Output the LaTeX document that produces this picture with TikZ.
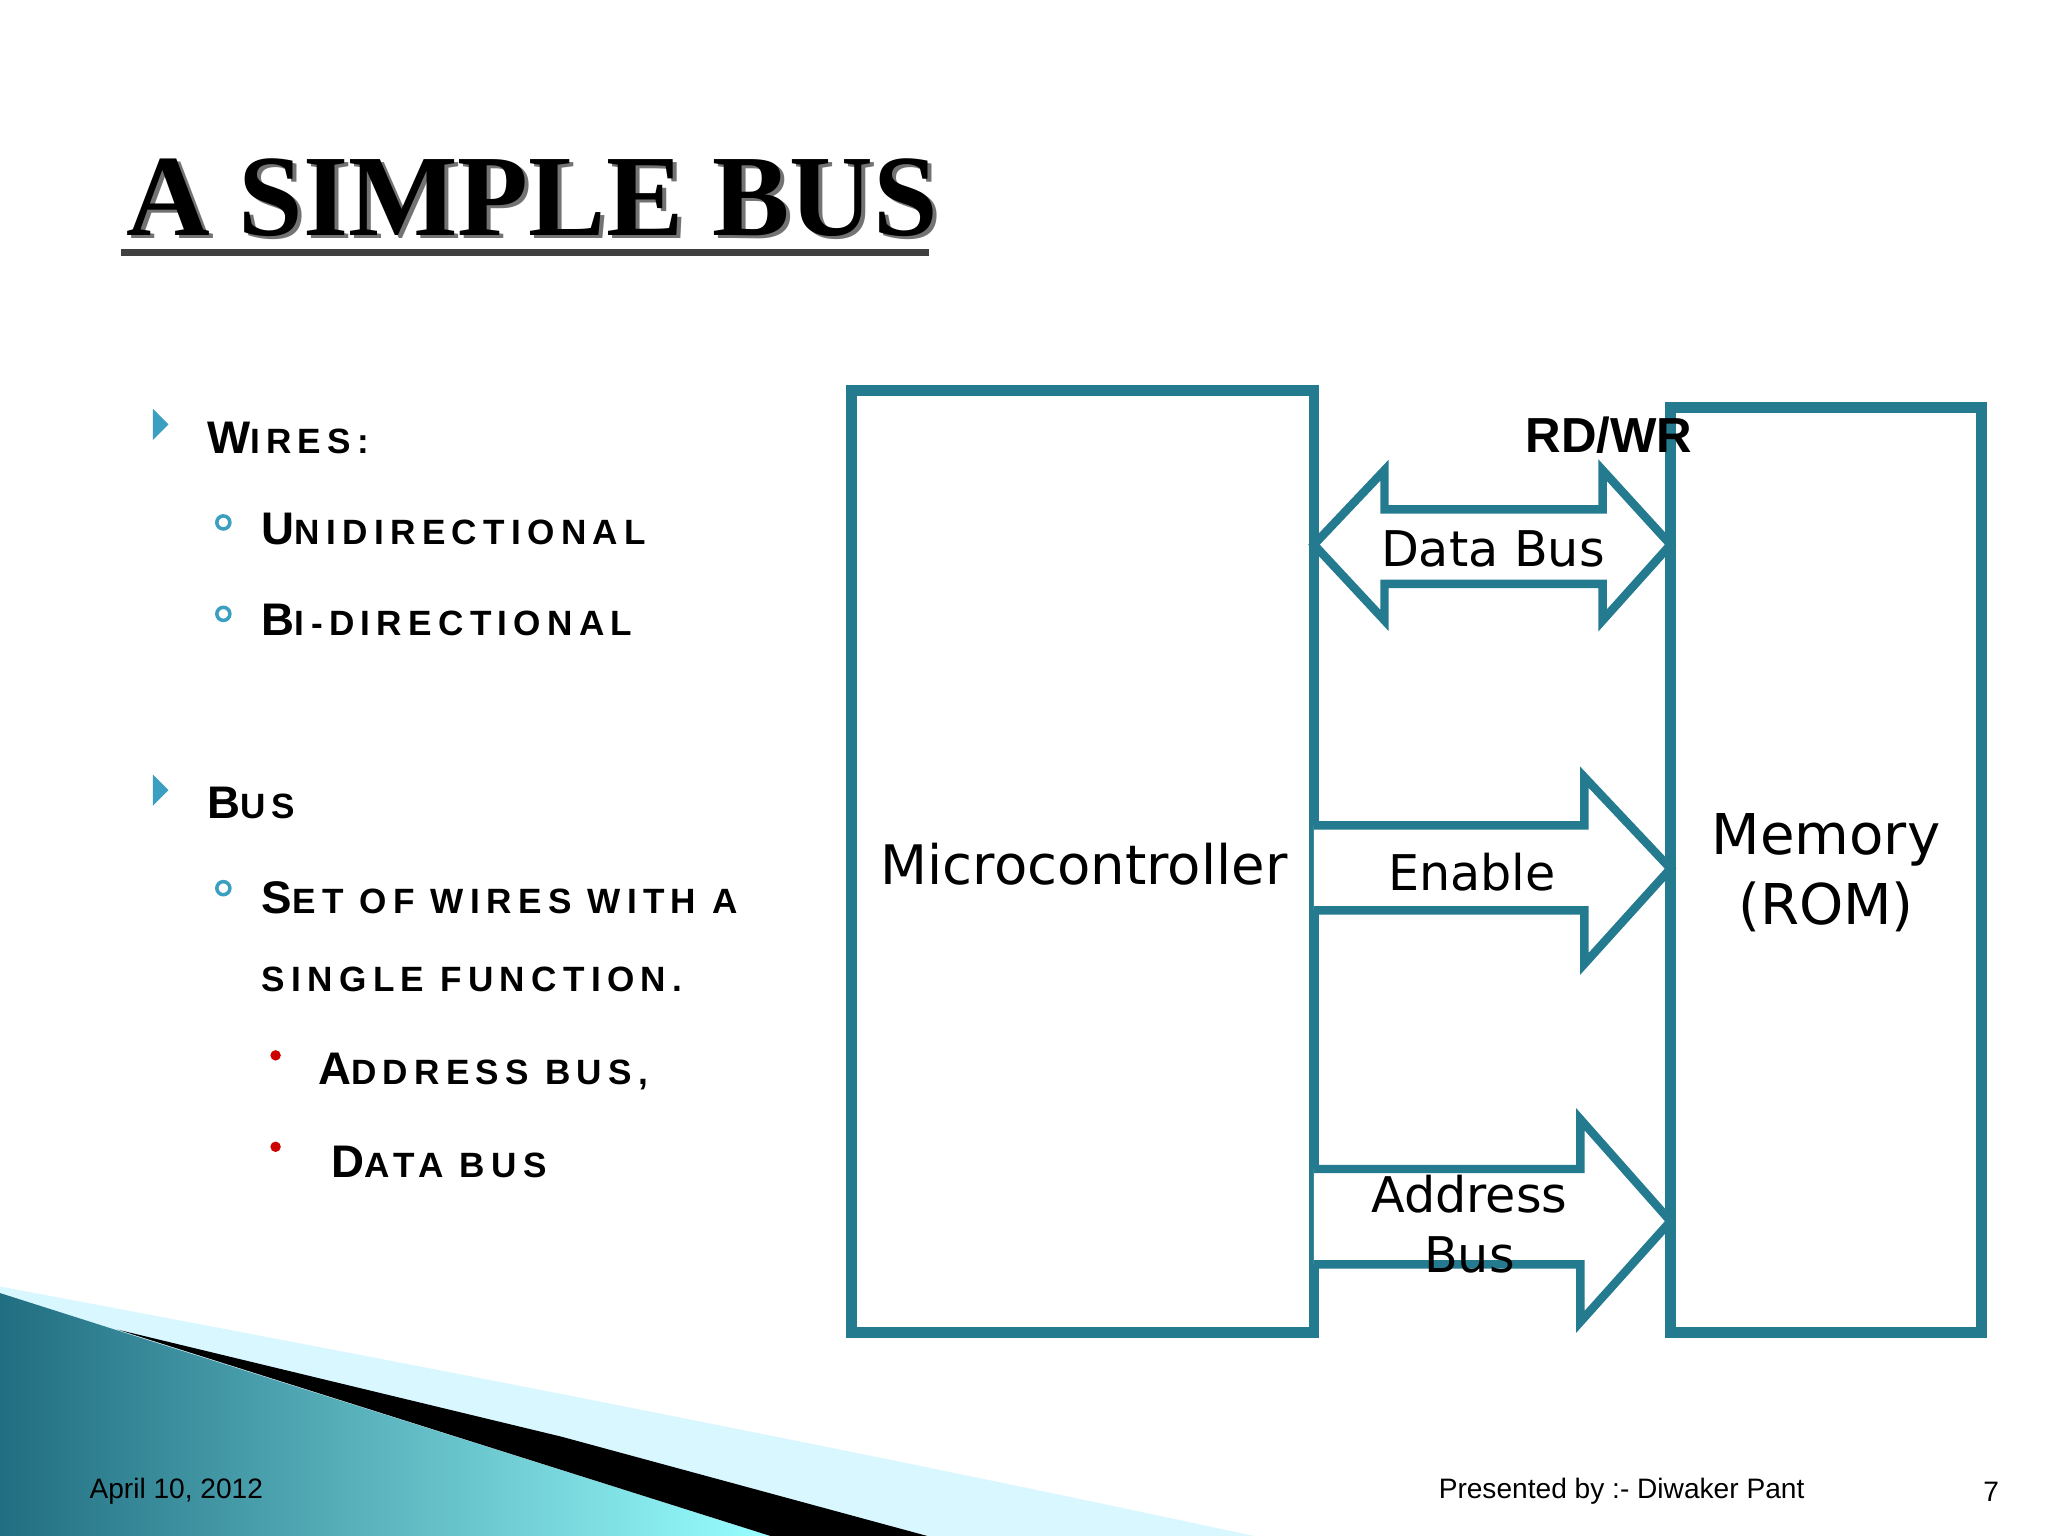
\documentclass[tikz,border=0pt]{standalone}
\usepackage{fontspec}
\setmainfont{DejaVu Sans}
\newfontfamily\lib{Liberation Sans}
\newfontfamily\ttl{Liberation Serif}
\definecolor{teal}{HTML}{247A8F}
\definecolor{bul}{HTML}{3A9FC0}
\newcommand{\fsc}[2]{{\lib\bfseries\fontsize{13}{14}\selectfont #1{\fontsize{10}{12}\selectfont\addfontfeature{LetterSpace=18}#2}}}
\begin{document}
\begin{tikzpicture}[x=0.01306cm,y=-0.01306cm,
  box/.style={draw=teal,line width=3pt},
  arr/.style={draw=teal,line width=2.4pt,fill=white,line join=miter},
  lbl/.style={font=\fontsize{15.5}{18}\selectfont,align=center},
  itm/.style={anchor=west,inner sep=0}]
\useasboundingbox (0,0) rectangle (1568,1176);
\fill[white] (0,0) rectangle (1568,1176);
% bottom decoration
\fill[blue!20!cyan!15] (0,985) .. controls (400,1060) and (700,1120) .. (960,1176) -- (0,1176) -- cycle;
\shade[left color=teal!90!black,right color=cyan!40!white] (0,990) -- (110,1025) -- (590,1176) -- (0,1176) -- cycle;
\fill[black] (90,1018) -- (430,1100) -- (710,1176) -- (590,1176) -- cycle;
% title
\node[itm,font=\ttl\bfseries\fontsize{33}{33}\selectfont,text=black!55] at (99,154) {A SIMPLE BUS};
\node[itm,font=\ttl\bfseries\fontsize{33}{33}\selectfont] (title) at (96,151) {A SIMPLE BUS};
\draw[line width=2pt,black!75] (93,193) -- (711,193);
% bullets
\foreach \y in {325,605} \fill[bul] (117,\y-12) -- (129,\y) -- (117,\y+12) -- cycle;
\foreach \y in {400,470,680} \draw[bul,line width=1pt] (171,\y) circle (5);
\foreach \y in {808,878} \fill[red!80!black] (211,\y) circle (4);
\node[itm] (w) at (158,335) {\fsc{W}{IRES:}};
\node[itm] (u) at (200,405) {\fsc{U}{NIDIRECTIONAL}};
\node[itm] (b) at (200,475) {\fsc{B}{I-DIRECTIONAL}};
\node[itm] (bus) at (158,615) {\fsc{B}{US}};
\node[itm] (s) at (200,687) {\fsc{S}{ET OF WIRES WITH A}};
\node[itm] (s2) at (200,750) {{\lib\bfseries\fontsize{10}{12}\selectfont\addfontfeature{LetterSpace=18}SINGLE FUNCTION.}};
\node[itm] (a) at (243,820) {\fsc{A}{DDRESS BUS,}};
\node[itm] (d) at (253,890) {\fsc{D}{ ATA BUS}};
% boxes
\draw[box] (652,299) rectangle (1006,1020);
\draw[box] (1279,312) rectangle (1517,1020);
\node[lbl] (mc) at (830,662) {Microcontroller};
\node[lbl,font=\fontsize{16}{20}\selectfont] (mem) at (1398,668) {Memory\\(ROM)};
\node[font=\lib\bfseries\fontsize{14}{14}\selectfont] (rdwr) at (1232,333) {RD/WR};
% arrows
\draw[arr] (1006,417) -- (1060,360) -- (1060,390) -- (1227,390) -- (1227,360) -- (1279,417) -- (1227,475) -- (1227,447) -- (1060,447) -- (1060,475) -- cycle;
\draw[arr] (1006,632) -- (1213,632) -- (1213,595) -- (1279,665) -- (1213,738) -- (1213,697) -- (1006,697);
\draw[arr] (1006,895) -- (1210,895) -- (1210,857) -- (1279,935) -- (1210,1012) -- (1210,968) -- (1006,968);
\node[lbl,font=\fontsize{14}{17}\selectfont] (db) at (1143,420) {Data Bus};
\node[lbl,font=\fontsize{14}{17}\selectfont] (en) at (1127,668) {Enable};
\node[lbl,font=\fontsize{14}{17}\selectfont] (ab) at (1125,937) {Address\\Bus};
% footer
\node[itm,font=\lib\fontsize{8}{9}\selectfont] (f1) at (68,1142) {April 10, 2012};
\node[itm,font=\lib\fontsize{8}{9}\selectfont] (f2) at (1101,1142) {Presented by :- Diwaker Pant};
\node[itm,font=\lib\fontsize{8}{9}\selectfont] (f3) at (1518,1142) {7};
\end{tikzpicture}
\end{document}
